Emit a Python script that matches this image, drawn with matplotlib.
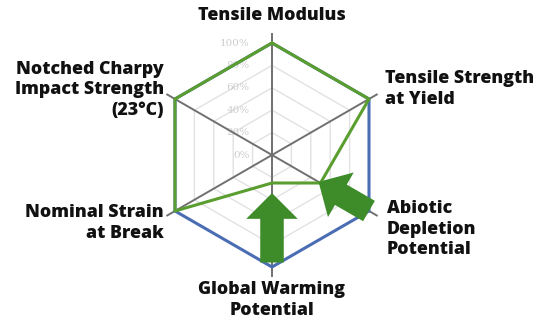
import numpy as np
import matplotlib
matplotlib.use("Agg")
import matplotlib.pyplot as plt
from matplotlib.patches import FancyArrow

# Radar categories, clockwise from the top
categories = [
    "Tensile Modulus",
    "Tensile Strength\nat Yield",
    "Abiotic\nDepletion\nPotential",
    "Global Warming\nPotential",
    "Nominal Strain\nat Break",
    "Notched Charpy\nImpact Strength\n(23°C)",
]
reference_values = [100, 100, 100, 100, 100, 100]   # blue series (%)
new_values = [100, 100, 50, 25, 100, 100]           # green series (%)
ring_ticks = [0, 20, 40, 60, 80, 100]
tick_labels = ["0%", "20%", "40%", "60%", "80%", "100%"]

# Improvement arrows: (category index, start %, end %)
arrow_spans = [(3, 96, 34), (2, 100, 48)]

W, H = 536, 320
CX, CY, R = 272, 155, 112   # centre and radius in pixels

fig = plt.figure(figsize=(W / 100, H / 100), dpi=100)
ax = fig.add_axes([0, 0, 1, 1])
ax.set_xlim(-CX / R, (W - CX) / R)
ax.set_ylim(-(H - CY) / R, CY / R)
ax.axis("off")

def px(x, y):
    return (x - CX) / R, (CY - y) / R

n = len(categories)
angles = np.pi / 2 - np.arange(n) * 2 * np.pi / n

def polar_xy(vals):
    r = np.asarray(vals, dtype=float) / 100.0
    return r * np.cos(angles), r * np.sin(angles)

def closed(a):
    return np.append(a, a[0])

# concentric grid rings
for t in ring_ticks[1:]:
    gx, gy = polar_xy([t] * n)
    ax.plot(closed(gx), closed(gy), color="#e2e2e2", lw=1.0, zorder=1)

# ring labels along the vertical spoke
for t, lab in zip(ring_ticks, tick_labels):
    ax.text(-0.2, t / 100.0, lab, ha="right", va="center", fontsize=7.5,
            color="#cdcdcd", family="DejaVu Serif", zorder=2)

# spokes
for a in angles:
    ax.plot([0, 1.08 * np.cos(a)], [0, 1.08 * np.sin(a)], color="#707070",
            lw=1.4, zorder=3)

# data series
bx, by = polar_xy(reference_values)
ax.plot(closed(bx), closed(by), color="#4a6db3", lw=2.2, zorder=4)
gx, gy = polar_xy(new_values)
ax.plot(closed(gx), closed(gy), color="#5a9e30", lw=2.2, zorder=5)

# improvement arrows
for idx, start, end in arrow_spans:
    a = angles[idx]
    x0, y0 = start / 100 * np.cos(a), start / 100 * np.sin(a)
    x1, y1 = end / 100 * np.cos(a), end / 100 * np.sin(a)
    ax.add_patch(FancyArrow(x0, y0, x1 - x0, y1 - y0, width=0.21,
                            head_width=0.46, head_length=0.23,
                            length_includes_head=True, color="#3d8c29",
                            lw=0, zorder=6))

font = dict(family="Open Sans", fontweight=800, fontsize=12.8, color="#111111",
            linespacing=1.25)
label_pos = [
    (272, 16, "center", "center"),
    (385, 89, "left", "center"),
    (387, 229, "left", "center"),
    (272, 300, "center", "center"),
    (164, 223, "right", "center"),
    (164, 90, "right", "center"),
]
for lab, (x, y, ha, va) in zip(categories, label_pos):
    ax.text(*px(x, y), lab, ha=ha, va=va, multialignment=ha, **font)

fig.savefig("out.png", dpi=100)
